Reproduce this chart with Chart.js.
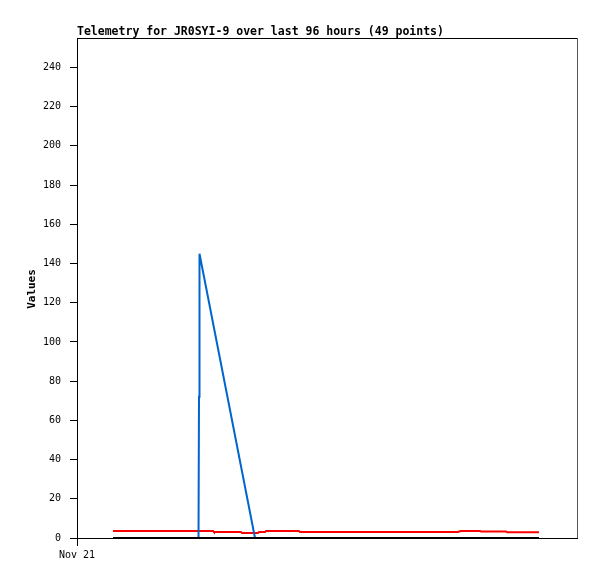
<!DOCTYPE html>
<html>
<head>
<meta charset="utf-8">
<script src="https://cdn.jsdelivr.net/npm/chart.js@4"></script>
<style>
  html, body { margin: 0; padding: 0; background: #fff; }
  #wrap { width: 597px; height: 579px; }
</style>
</head>
<body>
<div id="wrap"><canvas id="grafico" width="597" height="579"></canvas></div>
<script>
/* ===== datos (horas desde Nov 21 00:00) ===== */
const titulo = 'Telemetry for JR0SYI-9 over last 96 hours (49 points)';
const etiquetaY = 'Values';

const rojoHoras   = [7.2, 27.2, 27.4, 32.8, 33.0, 36.2, 36.4, 37.6, 37.8, 44.4, 44.6, 76.2, 76.4, 76.8, 80.6, 80.8, 85.8, 86.0, 92.4];
const rojoValores = [3.6, 3.6, 3.0, 3.0, 2.5, 2.5, 3.0, 3.0, 3.6, 3.6, 3.0, 3.0, 3.3, 3.6, 3.6, 3.3, 3.3, 2.9, 2.9];

const azulHoras   = [7.2, 24.3, 24.4, 24.5, 35.6, 92.4];
const azulValores = [0, 0, 72, 145, 0, 0];

const negroHoras   = [7.2, 92.4];
const negroValores = [0, 0];

const yTicks = [0, 20, 40, 60, 80, 100, 120, 140, 160, 180, 200, 220, 240];
const xTicks = [0];
const xTickEtiquetas = ['Nov 21'];

const puntos = (hs, vs) => hs.map((h, i) => ({ x: h, y: vs[i] }));

const FUENTE = '"DejaVu Sans Mono", monospace';

/* ===== marco, titulo y etiqueta Y ===== */
const marco = {
  id: 'marco',
  afterDraw(chart) {
    const { ctx, chartArea: a } = chart;
    ctx.save();
    ctx.lineWidth = 1;
    ctx.strokeStyle = '#000';
    ctx.beginPath();
    ctx.moveTo(a.left, 38.5);
    ctx.lineTo(a.right + 0.5, 38.5);
    ctx.stroke();
    ctx.strokeStyle = '#555';
    ctx.beginPath();
    ctx.moveTo(a.right + 0.5, 38.5);
    ctx.lineTo(a.right + 0.5, a.bottom);
    ctx.stroke();

    ctx.fillStyle = '#000';
    ctx.font = 'bold 11.5px ' + FUENTE;
    ctx.textAlign = 'left';
    ctx.textBaseline = 'alphabetic';
    ctx.fillText(titulo, 77, 35);

    ctx.translate(32, 289);
    ctx.rotate(-Math.PI / 2);
    ctx.font = 'bold 11px ' + FUENTE;
    ctx.textAlign = 'center';
    ctx.textBaseline = 'middle';
    ctx.fillText(etiquetaY, 0, 0);
    ctx.restore();
  }
};

new Chart(document.getElementById('grafico'), {
  type: 'line',
  data: {
    datasets: [
      { label: 'negro', data: puntos(negroHoras, negroValores), borderColor: '#000', borderWidth: 2, order: 0 },
      { label: 'azul', data: puntos(azulHoras, azulValores), borderColor: '#0066cc', borderWidth: 2, order: 1 },
      { label: 'rojo', data: puntos(rojoHoras, rojoValores), borderColor: '#ff0000', borderWidth: 2, order: 2 }
    ]
  },
  options: {
    responsive: false,
    animation: false,
    events: [],
    layout: { padding: { left: 0, right: 20, top: 38, bottom: 0 } },
    elements: { point: { radius: 0 }, line: { tension: 0 } },
    plugins: { legend: { display: false }, tooltip: { enabled: false }, title: { display: false } },
    scales: {
      x: {
        type: 'linear',
        min: 0, max: 100,
        afterFit(s) { s.height = 41; },
        afterBuildTicks(s) { s.ticks = xTicks.map(v => ({ value: v })); },
        border: { color: '#000', width: 1 },
        grid: { drawOnChartArea: false, drawTicks: true, tickLength: 8, color: '#000' },
        ticks: {
          color: '#000', font: { family: FUENTE, size: 10 }, padding: 3, maxRotation: 0,
          callback: (v) => { const i = xTicks.indexOf(v); return i >= 0 ? xTickEtiquetas[i] : ''; }
        }
      },
      y: {
        type: 'linear',
        min: 0, max: 255,
        afterFit(s) { s.width = 77; },
        afterBuildTicks(s) { s.ticks = yTicks.map(v => ({ value: v })); },
        border: { color: '#000', width: 1 },
        grid: { drawOnChartArea: false, drawTicks: true, tickLength: 7, color: '#000' },
        ticks: { color: '#000', font: { family: FUENTE, size: 10 }, padding: 9 }
      }
    }
  },
  plugins: [marco]
});
</script>
</body>
</html>
